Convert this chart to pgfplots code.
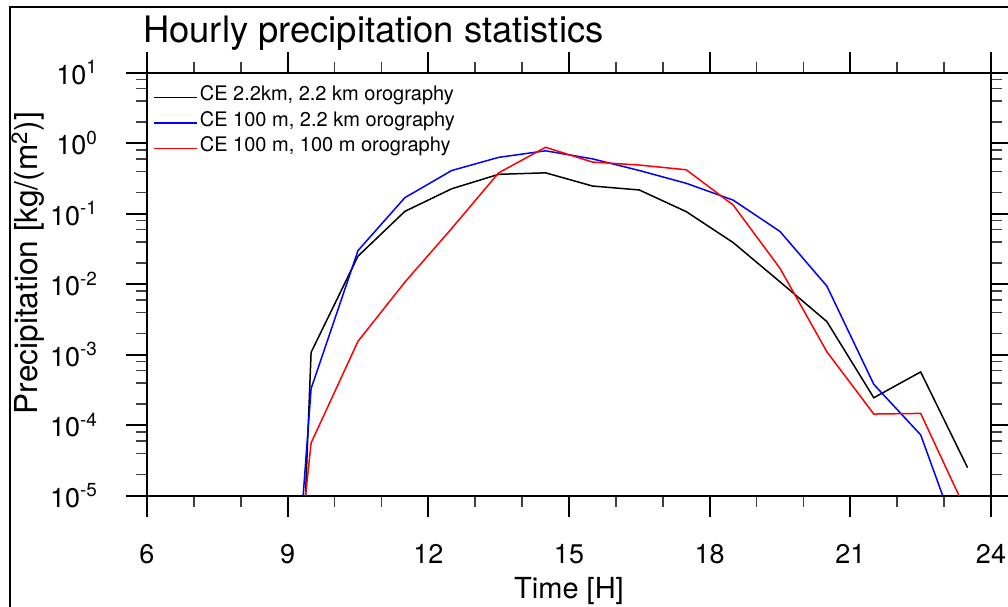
\documentclass[border=0pt]{standalone}
\usepackage{fontspec}
\setmainfont{TeX Gyre Heros}
\usepackage{pgfplots}
\pgfplotsset{compat=1.18}
\begin{document}
\begin{tikzpicture}[x=1pt,y=1pt]
\useasboundingbox (0,0) rectangle (504,303);
\draw[line width=1pt] (5,-5) -- (5,299.65) -- (510,299.65);
\node[anchor=base west, inner sep=0pt, font=\fontsize{18.2}{22}\selectfont] at (71.4,281.85) {Hourly precipitation statistics};
\begin{axis}[
  at={(73.5pt,55.15pt)}, anchor=south west,
  scale only axis, width=422pt, height=211.5pt,
  xmin=6, xmax=24, ymin=1e-5, ymax=10, ymode=log,
  xtick={6,9,12,15,18,21,24},
  xticklabels={6,9,12,15,18,21,24},
  minor x tick num=2,
  ytick={1e-5,1e-4,1e-3,1e-2,1e-1,1,10},
  yticklabels={10\textsuperscript{-5},10\textsuperscript{-4},10\textsuperscript{-3},10\textsuperscript{-2},10\textsuperscript{-1},10\textsuperscript{0},10\textsuperscript{1}},
  minor ytick={2e-5,4e-5,6e-5,8e-5,2e-4,4e-4,6e-4,8e-4,2e-3,4e-3,6e-3,8e-3,2e-2,4e-2,6e-2,8e-2,2e-1,4e-1,6e-1,8e-1,2,4,6,8},
  tick align=outside,
  major tick length=10.5pt, minor tick length=5.5pt,
  axis line style={line width=1pt},
  every tick/.style={line width=1pt, black},
  every minor tick/.style={line width=0.75pt, black!75},
  tick label style={font=\fontsize{13.5}{16}\selectfont},
  yticklabel style={anchor=east, xshift=-10.5pt},
  xticklabel style={anchor=north, yshift=-10.5pt},
  xlabel={Time [H]},
  ylabel={Precipitation [kg/(m\textsuperscript{2})]},
  xlabel style={font=\fontsize{14.5}{17}\selectfont, at={(axis description cs:0.5,-0.242)}, anchor=base},
  ylabel style={font=\fontsize{15.8}{18}\selectfont, at={(axis description cs:-0.141,0.55)}, anchor=center},
  legend image code/.code={\draw[#1] (0pt,0pt) -- (21.5pt,0pt);},
  legend cell align=left,
  legend style={at={(axis description cs:0.0071,0.972)}, anchor=north west, draw=none, fill=none, inner sep=0pt, row sep=0pt,
    font=\fontsize{10}{12}\selectfont, nodes={inner ysep=0pt, inner xsep=1pt, text height=8pt, text depth=4.75pt}},
]
\addplot[black, line width=0.75pt] coordinates {
(8.5,1.2e-20) (9.5,1.08e-3) (10.5,0.025) (11.5,0.108) (12.5,0.226) (13.5,0.362) (14.5,0.38) (15.5,0.247) (16.5,0.217) (17.5,0.107) (18.5,0.039) (19.5,0.0108) (20.5,2.95e-3) (21.5,2.45e-4) (22.5,5.7e-4) (23.5,2.5e-5)};
\addlegendentry{CE 2.2km, 2.2 km orography}
\addplot[blue, line width=0.75pt] coordinates {
(8.5,3.7e-13) (9.5,3.3e-4) (10.5,0.030) (11.5,0.169) (12.5,0.41) (13.5,0.63) (14.5,0.78) (15.5,0.60) (16.5,0.41) (17.5,0.27) (18.5,0.156) (19.5,0.056) (20.5,9.4e-3) (21.5,3.8e-4) (22.5,7.3e-5) (23.5,1.07e-6)};
\addlegendentry{CE 100 m, 2.2 km orography}
\addplot[red, line width=0.75pt] coordinates {
(8.5,3e-11) (9.5,5.6e-5) (10.5,1.55e-3) (11.5,0.0107) (12.5,0.062) (13.5,0.38) (14.5,0.875) (15.5,0.54) (16.5,0.49) (17.5,0.42) (18.5,0.133) (19.5,0.0168) (20.5,1.1e-3) (21.5,1.44e-4) (22.5,1.47e-4) (23.5,5.5e-6)};
\addlegendentry{CE 100 m, 100 m orography}
\end{axis}
\end{tikzpicture}
\end{document}
